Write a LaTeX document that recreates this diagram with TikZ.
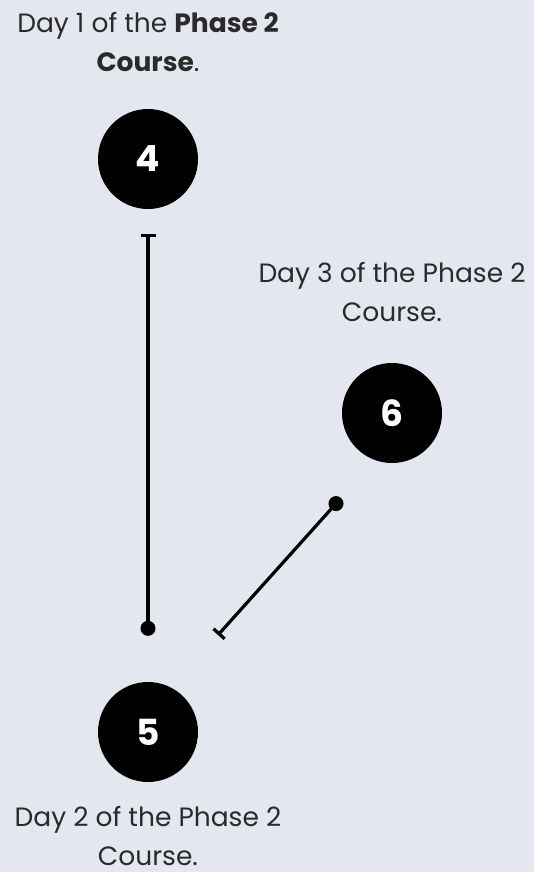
\documentclass[tikz,border=0pt]{standalone}
\usepackage{fontspec}
\setmainfont{Poppins}
\usetikzlibrary{arrows.meta}
\definecolor{hintergrund}{HTML}{E4E7F0}
\definecolor{schrift}{HTML}{2A2A2A}

\begin{document}
\begin{tikzpicture}[x=1pt, y=-1pt,
        tag/.style={circle, fill=black, minimum size=100pt, inner sep=0pt, text=white, font=\fontsize{36}{36}\selectfont\bfseries},
        beschreibung/.style={align=center, inner sep=0pt, text=schrift, font=\fontsize{26.5}{39}\selectfont},
        verbindung/.style={line width=3.2pt}]
        \fill[hintergrund] (0,0) rectangle (534,872);

        % Tage
        \node [tag] (vier) at (148,159) {4};
        \node [tag] (fuenf) at (148,732) {5};
        \node [tag] (sechs) at (392,413) {6};

        % Beschriftungen
        \node [beschreibung] (text-vier) at (148,42) {Day 1 of the \textbf{Phase 2}\\\textbf{Course}.};
        \node [beschreibung] (text-sechs) at (392,292) {Day 3 of the Phase 2\\Course.};
        \node [beschreibung] (text-fuenf) at (148,836) {Day 2 of the Phase 2\\Course.};

        % Verbindungen
        \coordinate (sechs-ende) at ([shift={(-51,85)}]sechs.center);
        \coordinate (fuenf-ende) at ([shift={(70,-97)}]fuenf.center);
        \draw [verbindung, {Bar[width=15pt, line width=3.2pt]}-{Circle[length=15pt]}, shorten <=25pt, shorten >=46pt] (vier) -- (fuenf);
        \draw [verbindung, {Circle[length=15pt]}-{Bar[width=15pt, line width=3.2pt]}] (sechs-ende) -- (fuenf-ende);
\end{tikzpicture}
\end{document}
